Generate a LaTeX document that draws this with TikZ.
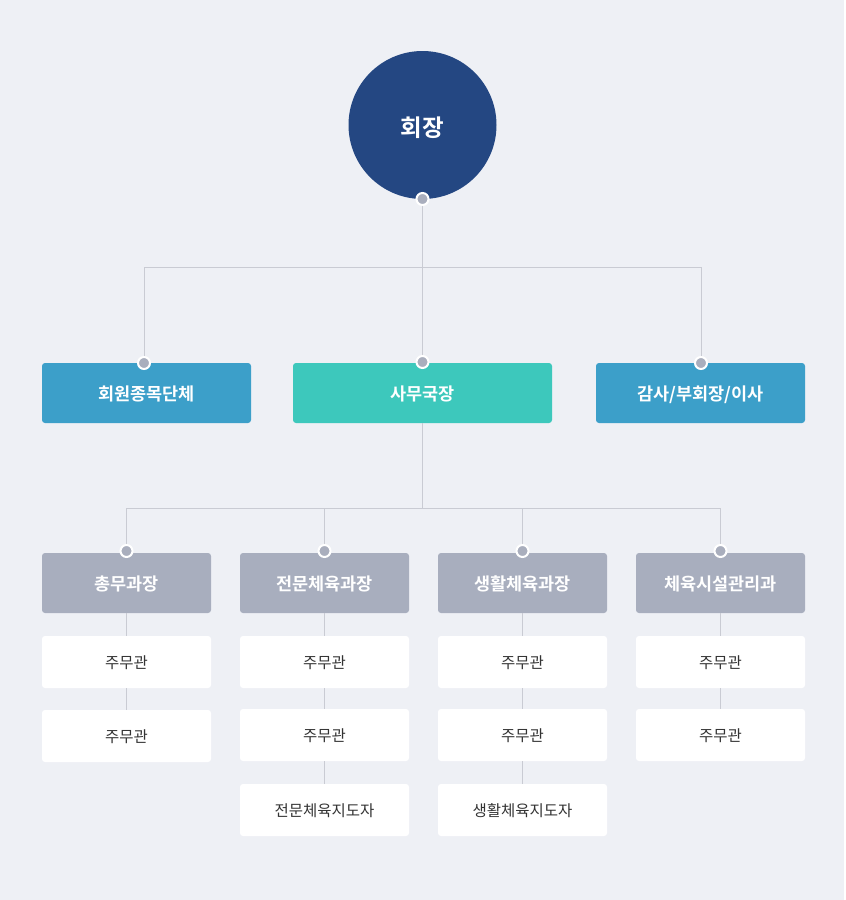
\documentclass[tikz,border=0pt]{standalone}
\usepackage{fontspec}
\newfontfamily\kr{Noto Sans CJK KR}
\newfontfamily\krb{Noto Sans CJK KR Bold}
\definecolor{bg}{HTML}{EEF0F5}
\definecolor{navy}{HTML}{244782}
\definecolor{blu}{HTML}{3C9FC9}
\definecolor{teal}{HTML}{3DC8BC}
\definecolor{gry}{HTML}{A8AEBE}
\definecolor{lin}{HTML}{C9CBD3}
\definecolor{dotc}{HTML}{A9AEBD}
\definecolor{txt}{HTML}{333333}
\tikzset{
  x=1pt,y=-1pt,
  conn/.style={draw=lin,line width=0.9pt},
  hdr/.style={rounded corners=3pt,minimum height=60pt,inner sep=0pt,text=white,font=\krb\fontsize{17.5}{17.5}\selectfont,text height=16pt,text depth=0.7pt},
  sub/.style={rounded corners=3pt,fill=white,minimum width=169pt,minimum height=52pt,inner sep=0pt,text=txt,font=\kr\fontsize{15.5}{15.5}\selectfont,text height=14pt,text depth=0.2pt},
  dotm/.style={circle,fill=dotc,draw=white,line width=2pt,minimum size=12pt,inner sep=0pt},
}
\begin{document}
\begin{tikzpicture}
\useasboundingbox (0,0) rectangle (846,900);
\fill[white] (0,0) rectangle (846,900);
\fill[bg] (0,0) rectangle (844,900);
% top
\node[circle,fill=navy,minimum size=148pt,inner sep=0pt,text=white,font=\krb\fontsize{23.5}{23.5}\selectfont,text height=24pt,text depth=0.2pt] (ceo) at (422.5,125) {회장};
% level 2
\node[hdr,fill=blu,minimum width=209pt] (a) at (146.5,393) {회원종목단체};
\node[hdr,fill=teal,minimum width=259pt] (b) at (422.5,393) {사무국장};
\node[hdr,fill=blu,minimum width=209pt] (c) at (700.5,393) {감사/부회장/이사};
\coordinate (j1) at (422.5,267);
\coordinate (ja) at (144,267);
\coordinate (jc) at (701,267);
\draw[conn] (ceo.south) -- (j1);
\draw[conn] (ja) -- (jc);
\draw[conn] (ja) -- (ja|-a.north);
\draw[conn] (j1) -- (b.north);
\draw[conn] (jc) -- (jc|-c.north);
% level 3
\node[hdr,fill=gry,minimum width=169pt] (d1) at (126.5,583) {총무과장};
\node[hdr,fill=gry,minimum width=169pt] (d2) at (324.5,583) {전문체육과장};
\node[hdr,fill=gry,minimum width=169pt] (d3) at (522.5,583) {생활체육과장};
\node[hdr,fill=gry,minimum width=169pt] (d4) at (720.5,583) {체육시설관리과};
\coordinate (j2) at (422.5,508);
\coordinate (k1) at (126.5,508);
\coordinate (k2) at (324.5,508);
\coordinate (k3) at (522.5,508);
\coordinate (k4) at (720.5,508);
\draw[conn] (b.south) -- (j2);
\draw[conn] (k1) -- (k4);
\foreach \k in {k1,k2,k3,k4}{\draw[conn] (\k) -- ++(0,43);}
% subs
\node[sub] (s11) at (126.5,662) {주무관};
\node[sub] (s12) at (126.5,736) {주무관};
\node[sub] (s21) at (324.5,662) {주무관};
\node[sub] (s22) at (324.5,735) {주무관};
\node[sub] (s23) at (324.5,810) {전문체육지도자};
\node[sub] (s31) at (522.5,662) {주무관};
\node[sub] (s32) at (522.5,735) {주무관};
\node[sub] (s33) at (522.5,810) {생활체육지도자};
\node[sub] (s41) at (720.5,662) {주무관};
\node[sub] (s42) at (720.5,735) {주무관};
\draw[conn] (d1.south) -- (s11.north) (s11.south) -- (s12.north);
\draw[conn] (d2.south) -- (s21.north) (s21.south) -- (s22.north) (s22.south) -- (s23.north);
\draw[conn] (d3.south) -- (s31.north) (s31.south) -- (s32.north) (s32.south) -- (s33.north);
\draw[conn] (d4.south) -- (s41.north) (s41.south) -- (s42.north);
% dots
\node[dotm] (p0) at (422.5,199) {};
\node[dotm] (p1) at (144,363) {};
\node[dotm] (p2) at (422.5,362) {};
\node[dotm] (p3) at (701,363) {};
\node[dotm] (q1) at (126.5,551) {};
\node[dotm] (q2) at (324.5,551) {};
\node[dotm] (q3) at (522.5,551) {};
\node[dotm] (q4) at (720.5,551) {};
\end{tikzpicture}
\end{document}
